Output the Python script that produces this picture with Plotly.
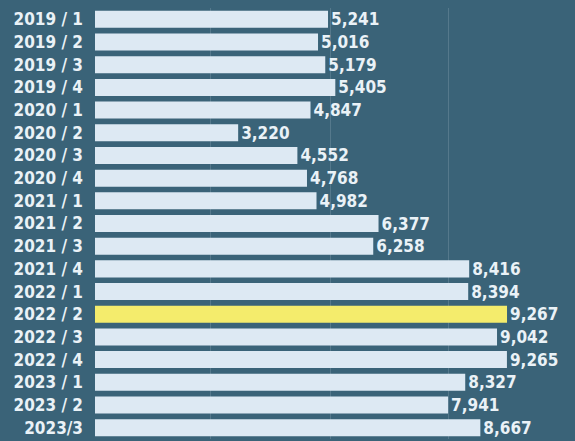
import plotly.graph_objects as go

quarters = ["2019 / 1", "2019 / 2", "2019 / 3", "2019 / 4",
            "2020 / 1", "2020 / 2", "2020 / 3", "2020 / 4",
            "2021 / 1", "2021 / 2", "2021 / 3", "2021 / 4",
            "2022 / 1", "2022 / 2", "2022 / 3", "2022 / 4",
            "2023 / 1", "2023 / 2", "2023/3"]
values = [5241, 5016, 5179, 5405,
          4847, 3220, 4552, 4768,
          4982, 6377, 6258, 8416,
          8394, 9267, 9042, 9265,
          8327, 7941, 8667]
highlight = "2022 / 2"

BG = "#3a6378"
BAR = "#dde9f3"
HL = "#f4ec6c"
TXT = "#eaf2f7"
FONT = "DejaVu Sans Condensed"

colors = [HL if q == highlight else BAR for q in quarters]

fig = go.Figure(go.Bar(
    x=values,
    y=quarters,
    orientation="h",
    marker=dict(color=colors, line=dict(width=0)),
    text=[f"<b>{v:,}</b>" for v in values],
    textposition="outside",
    constraintext="none",
    textfont=dict(family=FONT, size=17, color=TXT),
    cliponaxis=False,
    hoverinfo="skip",
))

fig.update_layout(
    width=575, height=441,
    margin=dict(l=95, r=0, t=8, b=2, autoexpand=False),
    paper_bgcolor=BG,
    plot_bgcolor=BG,
    bargap=0.25,
    showlegend=False,
    xaxis=dict(range=[0, 10796], tickvals=[2600, 5300, 7950],
               showticklabels=False, showgrid=True,
               gridcolor="#55798c", gridwidth=1, zeroline=False,
               showline=False, automargin=False),
    yaxis=dict(autorange="reversed", showgrid=False, zeroline=False,
               showline=False, ticks="", automargin=False,
               tickvals=quarters,
               ticktext=[f"<b>{q}</b>" for q in quarters],
               tickfont=dict(family=FONT, size=17, color=TXT),
               ticklabelstandoff=11),
)

fig.write_html("out.html",
               config={"displayModeBar": False, "staticPlot": True},
               post_script="document.body.style.margin='0';document.body.style.overflow='hidden';")
